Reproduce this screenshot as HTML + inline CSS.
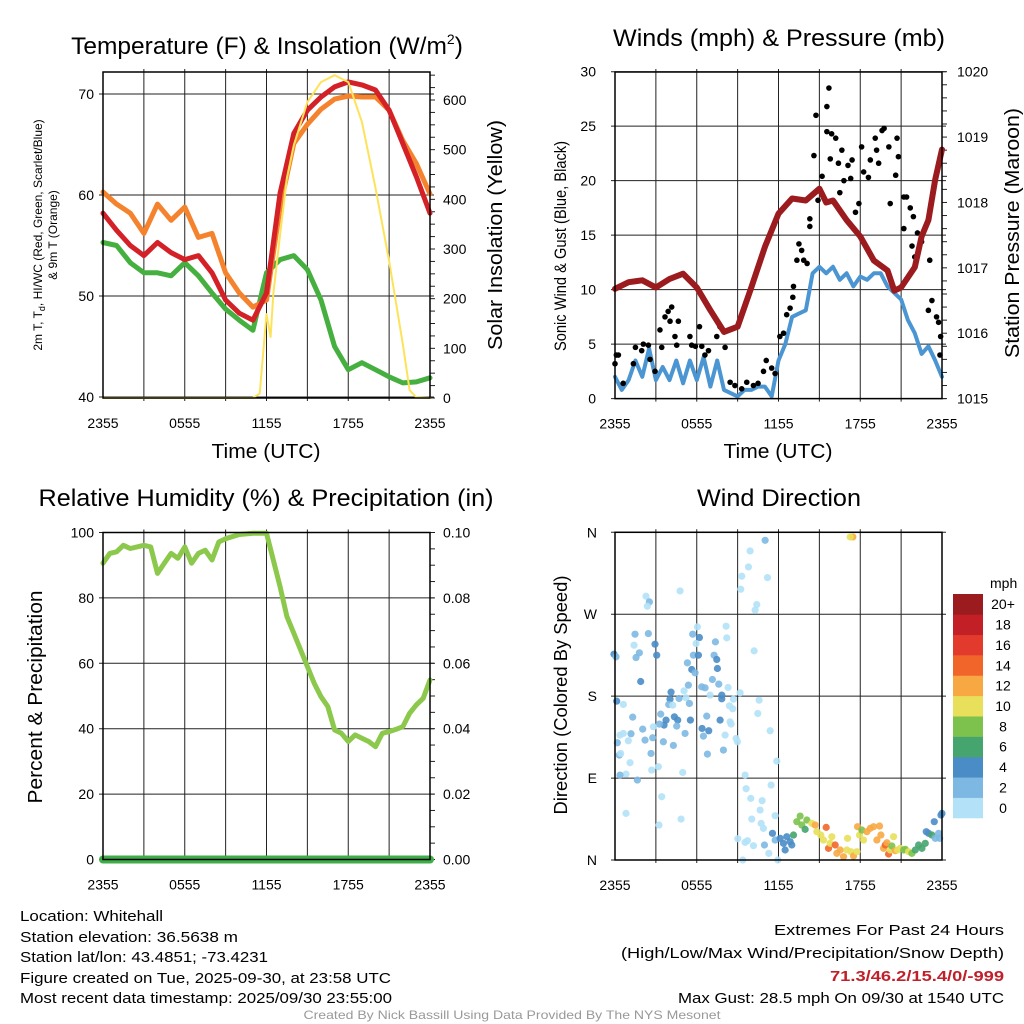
<!DOCTYPE html>
<html><head><meta charset="utf-8"><style>
html,body{margin:0;padding:0;background:#fff;}
svg{display:block;font-family:"Liberation Sans",Arial,sans-serif;}
</style></head><body>
<svg id="fig" width="1024" height="1024" viewBox="0 0 1024 1024">
<rect width="1024" height="1024" fill="#fff"/>
<g id="static" fill="#000">
<text x="267" y="54" font-size="24.5" text-anchor="middle">Temperature (F) &amp; Insolation (W/m<tspan font-size="14" dy="-10">2</tspan><tspan dy="10">)</tspan></text>
<text x="779" y="46" font-size="24.5" text-anchor="middle" textLength="332" lengthAdjust="spacingAndGlyphs">Winds (mph) &amp; Pressure (mb)</text>
<text x="266" y="506" font-size="24.5" text-anchor="middle" textLength="455" lengthAdjust="spacingAndGlyphs">Relative Humidity (%) &amp; Precipitation (in)</text>
<text x="779" y="506" font-size="24.5" text-anchor="middle" textLength="164" lengthAdjust="spacingAndGlyphs">Wind Direction</text>
<text x="266" y="458" font-size="20.5" text-anchor="middle" textLength="109" lengthAdjust="spacingAndGlyphs">Time (UTC)</text>
<text x="778" y="458" font-size="20.5" text-anchor="middle" textLength="109" lengthAdjust="spacingAndGlyphs">Time (UTC)</text>
<text transform="translate(42,235) rotate(-90)" font-size="12" text-anchor="middle">2m T, T<tspan font-size="9" dy="3">d</tspan><tspan dy="-3">, HI/WC (Red, Green, Scarlet/Blue)</tspan></text>
<text transform="translate(57,235) rotate(-90)" font-size="12" text-anchor="middle">&amp; 9m T (Orange)</text>
<text transform="translate(502,235) rotate(-90)" font-size="20.5" text-anchor="middle" textLength="230" lengthAdjust="spacingAndGlyphs">Solar Insolation (Yellow)</text>
<text transform="translate(566,246) rotate(-90)" font-size="17" text-anchor="middle" textLength="210" lengthAdjust="spacingAndGlyphs">Sonic Wind &amp; Gust (Blue, Black)</text>
<text transform="translate(1019,233) rotate(-90)" font-size="20.5" text-anchor="middle" textLength="250" lengthAdjust="spacingAndGlyphs">Station Pressure (Maroon)</text>
<text transform="translate(42,697) rotate(-90)" font-size="20.5" text-anchor="middle" textLength="213" lengthAdjust="spacingAndGlyphs">Percent &amp; Precipitation</text>
<text transform="translate(567,695) rotate(-90)" font-size="18" text-anchor="middle" textLength="239" lengthAdjust="spacingAndGlyphs">Direction (Colored By Speed)</text>
<text x="990" y="588" font-size="14">mph</text>
<g font-size="15">
<text x="20" y="921" textLength="143" lengthAdjust="spacingAndGlyphs">Location: Whitehall</text>
<text x="20" y="942" textLength="218" lengthAdjust="spacingAndGlyphs">Station elevation: 36.5638 m</text>
<text x="20" y="962" textLength="248" lengthAdjust="spacingAndGlyphs">Station lat/lon: 43.4851; -73.4231</text>
<text x="20" y="983" textLength="371" lengthAdjust="spacingAndGlyphs">Figure created on Tue, 2025-09-30, at 23:58 UTC</text>
<text x="20" y="1003" textLength="372" lengthAdjust="spacingAndGlyphs">Most recent data timestamp: 2025/09/30 23:55:00</text>
<text x="1004" y="935" text-anchor="end" textLength="230" lengthAdjust="spacingAndGlyphs">Extremes For Past 24 Hours</text>
<text x="1004" y="958" text-anchor="end" textLength="383" lengthAdjust="spacingAndGlyphs">(High/Low/Max Wind/Precipitation/Snow Depth)</text>
<text x="1004" y="981" text-anchor="end" fill="#c0202a" font-weight="bold" textLength="174" lengthAdjust="spacingAndGlyphs">71.3/46.2/15.4/0/-999</text>
<text x="1004" y="1003" text-anchor="end" textLength="326" lengthAdjust="spacingAndGlyphs">Max Gust: 28.5 mph On 09/30 at 1540 UTC</text>
</g>
<text x="512" y="1019" font-size="12" fill="#999" text-anchor="middle" textLength="417" lengthAdjust="spacingAndGlyphs">Created By Nick Bassill Using Data Provided By The NYS Mesonet</text>
</g>
<g id="dyn"></g>
</svg>
<script>
// ---------- data ----------
const hours = [0,1,2,3,4,5,6,7,8,9,10,11,12,13,14,15,16,17,18,19,20,21,22,23,24];
const tempRed = [58.2,56.5,55.0,54.0,55.3,54.3,53.6,54.0,52.3,49.6,48.3,47.6,50.3,60.2,66.1,68.4,69.7,70.7,71.2,70.9,70.4,68.4,65.1,61.8,58.2];
const tempOrange = [60.3,59.1,58.2,56.2,59.1,57.5,58.8,55.8,56.2,52.3,50.3,48.9,49.6,58.8,65.1,67.0,68.5,69.5,69.8,69.7,69.7,68.4,65.4,63.1,60.1];
const dewGreen = [55.3,55.0,53.3,52.3,52.3,52.0,53.3,52.0,50.3,48.7,47.6,46.6,52.3,53.6,54.0,52.6,49.6,45.0,42.7,43.4,42.7,42.0,41.4,41.5,41.9];
const solarHours = [0,11,11.5,12,12.3,12.5,13,13.5,14,15,16,17,18,19,20,21,22,22.5,23,24];
const solarVals = [0,0,9,169,123,209,329,443,509,596,636,650,636,556,423,276,109,16,1,0];
const pressHours = [0,1,2,3,4,5,6,7,8,9,10,11,12,13,14,15,15.5,16,17,18,19,20,20.5,21,22,22.5,23,23.5,24];
const pressVals = [1016.68,1016.78,1016.81,1016.70,1016.83,1016.91,1016.70,1016.35,1016.02,1016.10,1016.70,1017.32,1017.83,1018.06,1018.03,1018.21,1018.0,1018.03,1017.73,1017.48,1017.11,1016.96,1016.65,1016.70,1017.01,1017.48,1017.73,1018.35,1018.81];
const windHours = [0,0.5,1,1.5,2,2.5,3,3.5,4,4.5,5,5.5,6,6.5,7,7.5,8,8.5,9,9.5,10,10.5,11,11.5,12,12.5,13,13.5,14,14.5,15,15.5,16,16.5,17,17.5,18,18.5,19,19.5,20,20.5,21,21.5,22,22.5,23,23.5,24];
const windVals = [2.0,0.8,1.7,3.5,2.0,4.6,1.7,2.9,1.7,3.5,1.4,3.5,1.7,3.8,1.1,3.5,0.8,0.5,0.2,0.8,0.8,1.1,1.1,0.2,3.5,5.0,7.5,7.8,8.1,11.5,12.1,11.5,12.1,10.9,11.5,10.3,11.2,10.9,11.5,11.5,10.3,9.7,9.1,7.2,6.0,4.1,4.8,3.5,2.0];
const gustHours = [0,0.1,0.25,0.6,1.35,1.5,1.96,2.08,2.45,2.57,2.94,3.3,3.43,3.67,3.9,4.04,4.16,4.4,4.53,4.65,5.5,5.63,5.9,6.2,6.37,6.6,6.86,7.47,7.7,8.08,8.45,8.8,9.3,9.67,10.16,10.5,10.9,11.1,11.5,11.75,12.1,12.37,12.6,12.85,13.05,13.1,13.35,13.5,13.7,13.85,14.1,14.3,14.3,14.6,14.75,14.9,15.2,15.55,15.7,15.55,15.9,16.2,15.8,16.4,16.65,16.5,16.8,17.1,17.3,17.4,17.65,17.9,18.1,18.25,18.6,18.74,19.1,19.2,19.35,19.6,19.75,20.1,20.2,20.6,20.7,20.8,21.2,21.4,21.2,21.67,21.9,22.2,21.8,22.0,22.5,23.1,23.26,23.0,23.6,23.75,23.9,23.85];
const gustVals = [3.2,4.0,4.0,1.4,3.2,4.7,4.4,5.0,4.9,3.6,2.5,6.3,4.7,7.5,8.0,7.1,8.4,5.7,4.9,7.1,5.7,4.9,4.8,6.6,4.8,4.0,4.4,5.7,6.6,4.7,1.5,1.2,0.9,1.5,1.2,1.4,2.5,3.5,2.8,2.3,5.7,6.0,7.7,8.3,9.3,10.3,12.7,14.2,13.6,12.7,12.4,15.8,16.5,22.3,26.0,18.2,20.4,26.8,28.5,24.5,24.3,23.9,22.0,21.6,22.8,18.9,20.0,21.4,20.2,21.9,17.1,17.9,23.1,20.8,20.3,21.9,23.9,22.8,21.6,24.6,24.8,23.1,17.9,20.5,23.9,22.2,18.5,18.5,15.6,17.5,16.7,15.2,14.0,13.0,14.4,12.7,9.0,8.1,7.5,7.0,5.7,4.0];
const rhHours = [0,0.5,1,1.5,2,3,3.5,4,4.5,5,5.5,6,6.5,7,7.5,8,8.5,9,10,11,12,12.5,13,13.5,14,15,15.5,16,16.5,17,17.5,18,18.5,19,19.5,20,20.5,21,21.5,22,22.5,23,23.5,24];
const rhVals = [90.6,93.6,94.1,96.1,95.1,96.1,95.6,87.5,90.6,93.6,92.1,95.6,90.6,93.6,94.6,91.6,97.1,98.1,99.4,99.8,99.8,91.6,83.4,74.3,69.2,59.0,53.9,49.8,46.8,39.6,38.6,36.1,38.1,37.1,36.1,34.5,38.6,39.1,39.8,40.6,44.7,47.3,49.3,54.9];
const precipVals = [0,0];
const dirRaw = [[465,60,1],[420,92,0],[415,140,0],[395,168,0],[472,172,0],[392,207,0],[440,253,0],[435,270,0],[210,212,0],[108,228,0],[118,245,1],[112,258,0],[728,50,6],[720,50,5],
[75,342,1],[115,340,1],[72,375,0],[88,398,1],[78,412,1],[135,372,2],[140,405,2],[12,402,2],[18,410,1],[92,484,2],[248,342,1],[262,320,0],[268,352,2],[258,370,0],[250,405,1],[265,405,2],[232,428,1],[245,448,2],[255,458,1],[316,365,1],[348,318,0],[350,353,0],[312,405,1],[320,418,2],[322,445,2],[307,478,1],[326,492,1],[354,502,0],[432,392,0],[275,500,1],[285,503,1],[235,495,1],[222,512,0],[183,516,2],[180,537,2],[176,553,1],[188,555,0],[207,535,1],[228,533,0],[238,550,1],[300,525,0],[335,525,2],[335,536,2],[358,557,0],[370,537,0],[390,518,0],[368,566,0],[447,540,0],[443,580,0],[20,543,2],[40,553,0],[68,591,1],[152,582,1],[168,600,2],[162,615,2],[148,612,1],[193,590,2],[203,600,2],[200,618,1],[241,600,2],[290,588,1],[330,600,2],[360,605,0],[363,612,0],[130,620,0],[98,627,1],[63,641,1],[40,640,0],[30,645,0],[55,662,0],[22,668,1],[105,660,1],[128,653,1],[160,665,1],[190,676,1],[225,640,1],[276,625,2],[296,632,2],[280,648,1],[345,645,0],[378,655,0],[382,665,0],[480,632,0],[123,700,1],[28,705,1],[32,700,0],[60,728,0],[125,750,0],[145,740,0],[218,757,0],[48,762,0],[30,765,1],[82,780,1],[292,702,1],[340,690,1],[500,723,0],[405,765,0],[408,806,0],[483,795,0],[422,835,0],[456,842,0],[450,870,0],[155,830,0],[48,880,0],[147,915,0],[213,897,0],[425,897,0],[453,910,0],[460,925,0],[495,887,0],[383,956,0],[405,967,0],[412,962,0],[430,977,0],[463,975,1],[476,1000,0],[398,1020,0],[503,1020,0],[487,940,2],[495,960,1],[510,955,2],[520,970,2],[525,990,2],[530,950,2],[545,975,2],[550,945,3],[540,965,2],[560,905,4],[570,888,4],[575,915,4],[590,900,4],[585,928,3],[605,910,5],[615,915,6],[620,935,5],[632,945,5],[640,960,5],[648,922,7],[655,985,7],[660,970,5],[665,950,5],[675,975,7],[680,1000,6],[690,990,6],[700,1010,6],[710,990,5],[712,955,5],[722,995,5],[730,1008,6],[740,995,5],[742,920,6],[748,945,5],[755,930,4],[760,960,5],[770,935,6],[780,925,6],[790,920,6],[800,960,6],[808,918,6],[812,945,6],[820,985,6],[825,975,7],[830,968,6],[835,1002,7],[840,990,5],[845,978,4],[850,950,5],[855,992,6],[862,990,5],[870,985,5],[880,990,4],[885,988,4],[895,995,5],[905,1000,4],[915,990,3],[925,975,3],[935,985,3],[945,970,3],[948,935,2],[955,940,2],[965,945,3],[972,905,2],[975,955,1],[985,940,1],[988,955,1],[995,880,2],[992,885,2]];
const dirHours = dirRaw.map(d => (d[0]-15)/40.84);
const dirDeg = dirRaw.map(d => (340 - d[1]/3)*360/328);
const dirSpeed = dirRaw.map(d => d[2]*2);
const speedColors = ['#b3e2f8','#7db8e3','#4a8dc6','#46a46f','#7cc24c','#e8e05a','#f8a843','#f1652a','#e23a2c','#c31f26','#9b1b1e'];
const speedLabels = ['0','2','4','6','8','10','12','14','16','18','20+'];
const timeTicks = ['2355','0555','1155','1755','2355'];
const tempTicks = [40,50,60,70];
const solarTicks = [0,100,200,300,400,500,600];
const windTicks = [0,5,10,15,20,25,30];
const pressTicks = [1015,1016,1017,1018,1019,1020];
const rhTicks = [0,20,40,60,80,100];
const precipTicks = ['0.00','0.02','0.04','0.06','0.08','0.10'];
const dirTicks = ['N','E','S','W','N'];

// ---------- helpers ----------
const NS='http://www.w3.org/2000/svg';
const dyn=document.getElementById('dyn');
function mk(tag,attrs,parent){const e=document.createElementNS(NS,tag);for(const k in attrs)e.setAttribute(k,attrs[k]);(parent||dyn).appendChild(e);return e;}
function lin(d0,d1,r0,r1){return v=>r0+(v-d0)/(d1-d0)*(r1-r0);}
function poly(xs,ys,fx,fy){return xs.map((h,i)=>fx(h).toFixed(1)+','+fy(ys[i]).toFixed(1)).join(' ');}

function panel(name,x0,x1,y0,y1){
  const fx=lin(0,24,x0,x1);
  for(let i=1;i<8;i++){const l=mk('line',{x1:fx(i*3),x2:fx(i*3),y1:y0-3,y2:y1+3,stroke:'#222','stroke-width':1});
    
    }
  timeTicks.forEach((t,i)=>{const tx=mk('text',{x:fx(i*6),y:y1+30,'font-size':14,'text-anchor':'middle'});tx.textContent=t;
    
    });
  return fx;
}
function hgrid(name,fy,vals,x0,x1){vals.forEach(v=>{const l=mk('line',{x1:x0-4,x2:x1+4,y1:fy(v),y2:fy(v),stroke:'#222','stroke-width':1});
  
  });}
function labels(name,fy,vals,texts,x,anchor){vals.forEach((v,i)=>{const t=mk('text',{x:x,y:fy(v)+5,'font-size':14,'text-anchor':anchor});t.textContent=texts[i];
  
  });}
function minor(name,fy,d0,d1,step,x){for(let v=d0;v<=d1+1e-9;v+=step){const l=mk('line',{x1:x,x2:x+5,y1:fy(v),y2:fy(v),stroke:'#222','stroke-width':1});
  
  }}
function frame(name,x0,x1,y0,y1){const r=mk('rect',{x:x0,y:y0,width:x1-x0,height:y1-y0,fill:'none',stroke:'#000','stroke-width':1.5});
  
  }
function line(name,xs,ys,fx,fy,color,w){const p=mk('polyline',{points:poly(xs,ys,fx,fy),fill:'none',stroke:color,'stroke-width':w,'stroke-linejoin':'round','stroke-linecap':'round'});
  
  }

// ---------- panel 1 ----------
{const x0=103,x1=430,y0=72,y1=398;
 const fx=panel('temp',x0,x1,y0,y1);
 const fy=lin(40,70,397,94), fs=lin(0,600,398,100);
 hgrid('temp',fy,tempTicks,x0,x1);
 labels('temp-y-tick-label',fy,tempTicks,tempTicks.map(String),94,'end');
 labels('solar-y-tick-label',fs,solarTicks,solarTicks.map(String),443,'start');
 minor('solar-minor-tick',fs,0,650,25,x1);
 line('dewpoint-line',hours,dewGreen,fx,fy,'#45b03f',5);
 line('temp-9m-line',hours,tempOrange,fx,fy,'#f5822d',5);
 line('temp-2m-line',hours,tempRed,fx,fy,'#d42027',5);
 line('solar-line',solarHours,solarVals,fx,fs,'#fde35a',2);
 frame('temp',x0,x1,y0,y1);}
// ---------- panel 2 ----------
{const x0=615,x1=942,y0=72,y1=398.6;
 const fx=panel('wind',x0,x1,y0,y1);
 const fy=lin(0,30,398.6,71.7), fp=lin(1015,1020,398.6,71.7);
 hgrid('wind',fy,windTicks,x0,x1);
 labels('wind-y-tick-label',fy,windTicks,windTicks.map(String),596,'end');
 labels('pressure-y-tick-label',fp,pressTicks,pressTicks.map(String),957,'start');
 minor('pressure-minor-tick',fp,1015,1020,0.2,x1);
 line('wind-speed-line',windHours,windVals,fx,fy,'#4b96d2',4);
 gustHours.forEach((h,i)=>{const c=mk('circle',{cx:fx(h),cy:fy(gustVals[i]),r:2.8,fill:'#000'});
   
   });
 line('pressure-line',pressHours,pressVals,fx,fp,'#9b1b1e',6);
 frame('wind',x0,x1,y0,y1);}
// ---------- panel 3 ----------
{const x0=103,x1=430,y0=532.5,y1=859.5;
 const fx=panel('rh',x0,x1,y0,y1);
 const fy=lin(0,100,859.5,532.5), fq=lin(0,0.1,859.5,532.5);
 hgrid('rh',fy,rhTicks,x0,x1);
 labels('rh-y-tick-label',fy,rhTicks,rhTicks.map(String),94,'end');
 labels('precip-y-tick-label',fy,rhTicks,precipTicks,443,'start');
 minor('precip-minor-tick',fy,0,100,5,x1);
 line('rh-line',rhHours,rhVals,fx,fy,'#8cc84b',5);
 line('precip-line',[0,24],precipVals,fx,fq,'#3fae49',8);
 frame('rh',x0,x1,y0,y1);}
// ---------- panel 4 ----------
{const x0=615,x1=942,y0=532.3,y1=860;
 const fx=panel('dir',x0,x1,y0,y1);
 const fy=lin(0,360,860,532.3);
 const dv=[0,90,180,270,360];
 hgrid('dir',fy,dv,x0,x1);
 labels('dir-y-tick-label',fy,dv,dirTicks,597,'end');
 dirHours.forEach((h,i)=>{const c=mk('circle',{cx:fx(h),cy:fy(dirDeg[i]),r:3.6,fill:speedColors[dirSpeed[i]/2],'fill-opacity':0.9});
   
   });
 frame('dir',x0,x1,y0,y1);
 const bh=224/11;
 speedColors.forEach((col,i)=>{const yy=818-(i+1)*bh;
   const r=mk('rect',{x:953,y:yy,width:30,height:bh+0.3,fill:col});
   
   
   const t=mk('text',{x:1003,y:yy+bh/2+5,'font-size':14,'text-anchor':'middle'});t.textContent=speedLabels[i];
   
   });}
</script>
</body></html>
